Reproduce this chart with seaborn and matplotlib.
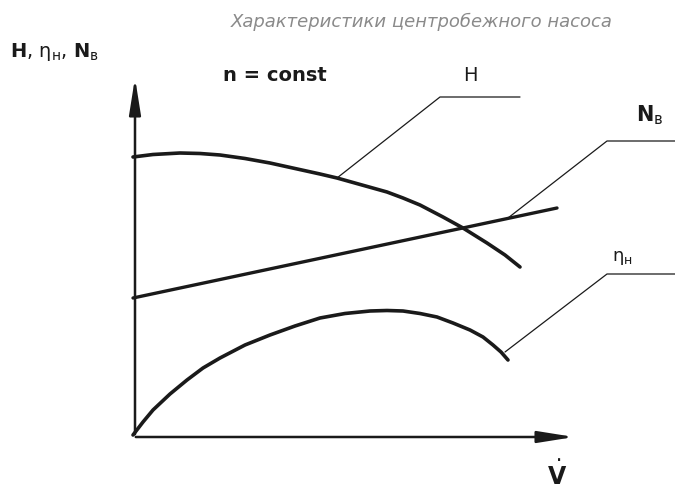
import matplotlib
matplotlib.use("Agg")
import matplotlib.pyplot as plt
import seaborn as sns

# curve values (V measured from origin, values measured up from V axis)
v_h = [0, 20, 47, 67, 87, 112, 137, 162, 187, 204, 229, 254, 270, 287, 310,
       330, 354, 372, 387]
h_vals = [278, 280.5, 282, 281.5, 280, 276.5, 272, 266.5, 261, 257, 250, 243,
          237, 230, 218, 207, 192, 180, 168]

v_n = [0, 424]
n_vals = [137, 227]

v_eta = [0, 10, 20, 37, 54, 70, 87, 112, 137, 162, 187, 212, 237, 254, 270,
         287, 304, 320, 337, 350, 360, 368, 375]
eta_vals = [0, 13, 25, 41, 55, 67, 77, 90, 100, 109, 117, 121.5, 124, 124.5,
            124, 121.5, 118, 112, 105, 98, 90, 83, 75]

ink = "#1a1a1a"

sns.set_style("white")
fig = plt.figure(figsize=(6.75, 4.91), dpi=100)
ax = fig.add_axes([0, 0, 1, 1])
ax.set_xlim(-133, 542)
ax.set_ylim(-56, 435)
ax.axis("off")

sns.lineplot(x=v_h, y=h_vals, ax=ax, color=ink, lw=2.6, sort=False)
sns.lineplot(x=v_n, y=n_vals, ax=ax, color=ink, lw=2.4, sort=False)
sns.lineplot(x=v_eta, y=eta_vals, ax=ax, color=ink, lw=2.6, sort=False)

# axes with arrows
arrow = dict(arrowstyle="-|>,head_length=2.2,head_width=0.35", color=ink, lw=1.8)
ax.annotate("", xy=(2, 360), xytext=(2, -2), arrowprops=arrow)
ax.annotate("", xy=(444, -2), xytext=(0, -2), arrowprops=arrow)

# leader lines
ax.plot([204, 307, 387], [257, 338, 338], color=ink, lw=0.9)
ax.plot([375, 474, 542], [217, 294, 294], color=ink, lw=0.9)
ax.plot([372, 474, 542], [83, 161, 161], color=ink, lw=0.9)

# labels
ax.text(337, 360, "H", fontsize=14, ha="center", va="center", color=ink)
ax.text(517, 320, r"$\mathbf{N}_\mathrm{в}$", fontsize=15, ha="center",
        va="center", color=ink)
ax.text(489, 177, "η$_\\mathrm{н}$", fontsize=13, ha="center", va="center",
        color=ink)
ax.text(142, 360, "n = const", fontsize=14, fontweight="bold", ha="center",
        va="center", color=ink)
ax.text(-123, 383, "$\\mathbf{H}$, η$_\\mathrm{н}$, $\\mathbf{N}_\\mathrm{в}$",
        fontsize=14, ha="left", va="center", color=ink)
ax.text(424, -40, r"$\dot{\mathbf{V}}$", fontsize=17, ha="center", va="center",
        color=ink)

fig.suptitle("Характеристики центробежного насоса", x=0.625, y=0.975,
             fontsize=13, style="italic", color="#8a8a8a")

plt.savefig("out.png", dpi=100)
